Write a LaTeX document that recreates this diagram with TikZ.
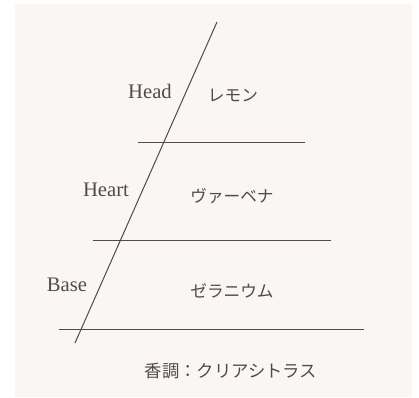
\documentclass[tikz,border=0pt]{standalone}
\usepackage{fontspec}
\setmainfont{Liberation Serif}
\newfontfamily\jpfont{Noto Sans CJK JP}
\definecolor{paper}{HTML}{FAF6F3}
\definecolor{ink}{HTML}{54484B}
\tikzset{
  layer/.style = {draw = ink, line width = .75pt},
  tier/.style = {font = \fontsize{15.5}{18}\selectfont, text = ink, inner sep = 0pt},
  scent/.style = {font = \jpfont\fontsize{12.5}{15}\selectfont, text = ink, inner sep = 0pt}
}
\begin{document}
\begin{tikzpicture}[x = .75pt, y = -.75pt]
  \useasboundingbox (0, 0) rectangle (419, 398);
  \fill[paper] (15, 4) rectangle (412, 397);

  % slanted axis
  \coordinate (top) at (217, 22);
  \coordinate (foot) at (75, 343);
  \draw[layer] (top) -- (foot);

  % layer lines
  \coordinate (headL) at (138, 143);
  \coordinate (headR) at (305, 143);
  \coordinate (heartL) at (93, 241);
  \coordinate (heartR) at (331, 241);
  \coordinate (baseL) at (59, 330);
  \coordinate (baseR) at (364, 330);
  \draw[layer] (headL) -- (headR);
  \draw[layer] (heartL) -- (heartR);
  \draw[layer] (baseL) -- (baseR);

  \node[tier] (head) at (150, 91) {Head};
  \node[tier] (heart) at (106, 190) {Heart};
  \node[tier] (base) at (67, 285) {Base};

  \node[scent] (lemon) at (233, 95) {レモン};
  \node[scent] (verbena) at (232, 196) {ヴァーベナ};
  \node[scent] (geranium) at (232, 291) {ゼラニウム};

  \node[scent, font = \jpfont\fontsize{13}{16}\selectfont] (accord) at (231, 371)
  {香調：クリアシトラス};
\end{tikzpicture}
\end{document}
